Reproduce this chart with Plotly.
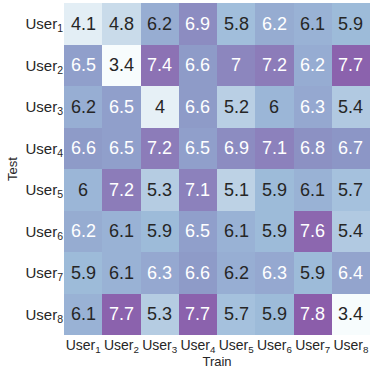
import plotly.graph_objects as go

users = ["User<sub>%d</sub>" % i for i in range(1, 9)]
train_labels = users
test_labels = users

# rows = Test user, columns = Train user
scores = [
    [4.1, 4.8, 6.2, 6.9, 5.8, 6.23, 6.1, 5.9],
    [6.5, 3.4, 7.4, 6.6, 7.0, 7.2, 6.22, 7.7],
    [6.18, 6.5, 4.0, 6.6, 5.2, 6.0, 6.3, 5.4],
    [6.6, 6.5, 7.2, 6.5, 6.9, 7.1, 6.8, 6.7],
    [6.0, 7.2, 5.3, 7.1, 5.1, 5.9, 6.1, 5.7],
    [6.23, 6.1, 5.9, 6.5, 6.1, 5.9, 7.6, 5.4],
    [5.9, 6.1, 6.3, 6.6, 6.18, 6.3, 5.9, 6.4],
    [6.1, 7.7, 5.3, 7.7, 5.7, 5.9, 7.8, 3.4],
]


def fmt(v):
    return "%g" % round(v, 1)


fig = go.Figure(go.Heatmap(
    z=scores, x=train_labels, y=test_labels,
    colorscale="BuPu", zmin=3.4, zmax=10.0,
    showscale=False, xgap=0, ygap=0,
))

for i, row in enumerate(scores):
    for j, v in enumerate(row):
        fig.add_annotation(
            x=train_labels[j], y=test_labels[i], text=fmt(v),
            showarrow=False,
            font=dict(size=18, color="white" if v > 6.2 else "#262626"),
        )

fig.update_xaxes(title=dict(text="Train", standoff=0, font=dict(size=13)),
                 tickfont=dict(size=14), tickangle=0, ticks="", showgrid=False)
fig.update_yaxes(title=dict(text="Test", standoff=4, font=dict(size=13)),
                 tickfont=dict(size=15), ticks="", showgrid=False,
                 autorange="reversed")
fig.update_layout(
    width=374, height=369,
    margin=dict(l=64, r=4, t=3, b=34),
    font=dict(family="Liberation Sans, Arial, sans-serif", color="#262626"),
    plot_bgcolor="white", paper_bgcolor="white",
)
fig.write_html("out.html", config={"displayModeBar": False},
               post_script="document.body.style.margin='0';")
